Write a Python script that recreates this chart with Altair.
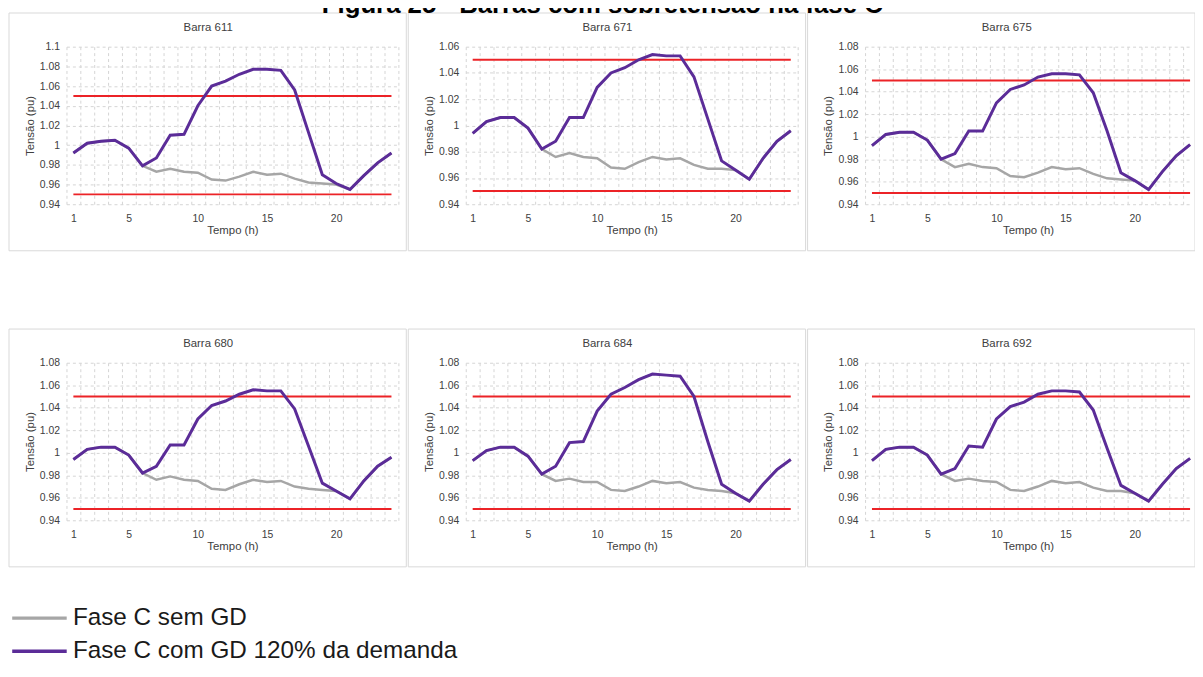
import altair as alt
import pandas as pd

# ---------------- data ----------------
hours = list(range(1, 25))
x_label_ticks = [1, 5, 10, 15, 20]
x_grid_ticks = [0.5, 1.5, 2.5, 3.5, 4.5, 5.5, 6.5, 7.5, 8.5, 9.5, 10.5, 11.5,
                12.5, 13.5, 14.5, 15.5, 16.5, 17.5, 18.5, 19.5, 20.5, 21.5, 22.5, 23.5, 24.5]

y_ticks_611 = [0.94, 0.96, 0.98, 1.0, 1.02, 1.04, 1.06, 1.08, 1.1]
y_ticks_671 = [0.94, 0.96, 0.98, 1.0, 1.02, 1.04, 1.06]
y_ticks_std = [0.94, 0.96, 0.98, 1.0, 1.02, 1.04, 1.06, 1.08]

lim_inf = 0.95
lim_sup = 1.05

serie_sem = "Fase C sem GD"
serie_com = "Fase C com GD 120% da demanda"

sem_611 = [0.992, 1.002, 1.004, 1.005, 0.997, 0.979, 0.973, 0.976, 0.973, 0.972, 0.965, 0.964,
           0.968, 0.973, 0.970, 0.971, 0.966, 0.962, 0.961, 0.960, 0.955, 0.969, 0.982, 0.992]
com_611 = [0.992, 1.002, 1.004, 1.005, 0.997, 0.979, 0.987, 1.010, 1.011, 1.040, 1.060, 1.065,
           1.072, 1.077, 1.077, 1.076, 1.056, 1.013, 0.970, 0.961, 0.955, 0.969, 0.982, 0.992]

sem_671 = [0.994, 1.003, 1.006, 1.006, 0.998, 0.982, 0.976, 0.979, 0.976, 0.975, 0.968, 0.967,
           0.972, 0.976, 0.974, 0.975, 0.970, 0.967, 0.967, 0.966, 0.959, 0.975, 0.988, 0.996]
com_671 = [0.994, 1.003, 1.006, 1.006, 0.998, 0.982, 0.988, 1.006, 1.006, 1.029, 1.040, 1.044,
           1.050, 1.054, 1.053, 1.053, 1.037, 1.005, 0.973, 0.966, 0.959, 0.975, 0.988, 0.996]

sem_675 = [0.992, 1.002, 1.004, 1.004, 0.997, 0.980, 0.973, 0.976, 0.973, 0.972, 0.965, 0.964,
           0.968, 0.973, 0.971, 0.972, 0.967, 0.963, 0.962, 0.961, 0.953, 0.969, 0.983, 0.993]
com_675 = [0.992, 1.002, 1.004, 1.004, 0.997, 0.980, 0.985, 1.005, 1.005, 1.030, 1.042, 1.046,
           1.053, 1.056, 1.056, 1.055, 1.039, 1.005, 0.968, 0.961, 0.953, 0.969, 0.983, 0.993]

sem_680 = [0.994, 1.003, 1.005, 1.005, 0.998, 0.982, 0.976, 0.979, 0.976, 0.975, 0.968, 0.967,
           0.972, 0.976, 0.974, 0.975, 0.970, 0.968, 0.967, 0.966, 0.959, 0.975, 0.988, 0.996]
com_680 = [0.994, 1.003, 1.005, 1.005, 0.998, 0.982, 0.988, 1.007, 1.007, 1.030, 1.042, 1.046,
           1.052, 1.056, 1.055, 1.055, 1.039, 1.006, 0.973, 0.966, 0.959, 0.975, 0.988, 0.996]

sem_684 = [0.993, 1.002, 1.005, 1.005, 0.997, 0.981, 0.975, 0.977, 0.974, 0.974, 0.967, 0.966,
           0.970, 0.975, 0.973, 0.974, 0.969, 0.967, 0.966, 0.964, 0.957, 0.972, 0.985, 0.994]
com_684 = [0.993, 1.002, 1.005, 1.005, 0.997, 0.981, 0.988, 1.009, 1.010, 1.037, 1.052, 1.058,
           1.065, 1.070, 1.069, 1.068, 1.050, 1.010, 0.972, 0.964, 0.957, 0.972, 0.985, 0.994]

sem_692 = [0.993, 1.003, 1.005, 1.005, 0.998, 0.981, 0.975, 0.977, 0.975, 0.974, 0.967, 0.966,
           0.970, 0.975, 0.973, 0.974, 0.969, 0.966, 0.966, 0.964, 0.957, 0.972, 0.986, 0.995]
com_692 = [0.993, 1.003, 1.005, 1.005, 0.998, 0.981, 0.986, 1.006, 1.005, 1.030, 1.041, 1.045,
           1.052, 1.055, 1.055, 1.054, 1.038, 1.004, 0.971, 0.964, 0.957, 0.972, 0.986, 0.995]

# ---------------- style ----------------
FONT = "Liberation Sans"
GRAY = "#a6a6a6"
PURPLE = "#5b2c98"
RED = "#ec2327"
GRID = "#d4d4d4"
FRAME = "#d9d9d9"
TXT = "#404040"

PW, PH = 335, 159
HOUR_PX = PW / 24.0

color_scale = alt.Scale(domain=[serie_sem, serie_com], range=[GRAY, PURPLE])


def panel(name, sem, com, y_ticks, pw=PW, right_pad=8):
    x_end = 0.5 + pw / HOUR_PX
    ys = alt.Scale(domain=[y_ticks[0], y_ticks[-1]], nice=False, zero=False)
    xs = alt.Scale(domain=[0.5, x_end], nice=False, zero=False)
    y_axis = alt.Axis(values=y_ticks, format=".2~f", grid=True, gridDash=[3, 3],
                      gridColor=GRID, ticks=False, domain=False, title="Tensão (pu)",
                      labelFontSize=10.5, labelPadding=7, titleFontSize=11.5,
                      titleFontWeight="normal", titlePadding=4)
    grid_vals = [g for g in x_grid_ticks if g <= x_end]

    df_sem = pd.DataFrame({"h": hours, "v": sem, "serie": serie_sem})
    df_com = pd.DataFrame({"h": hours, "v": com, "serie": serie_com})
    df_lim = pd.DataFrame({"h": hours * 2,
                           "v": [lim_inf] * 24 + [lim_sup] * 24,
                           "lim": ["inf"] * 24 + ["sup"] * 24})
    one = pd.DataFrame({"t": ["Barra " + name]})

    frame = alt.Chart(one).mark_rect(filled=False, stroke=FRAME, strokeWidth=1).encode(
        x=alt.value(-58), x2=alt.value(pw + right_pad), y=alt.value(-34), y2=alt.value(PH + 47))

    ptitle = alt.Chart(one).mark_text(font=FONT, fontSize=11.5, color=TXT, baseline="middle").encode(
        x=alt.value((PW - 49) / 2), y=alt.value(-19), text="t:N")

    grid = alt.Chart(df_sem).mark_line(opacity=0).encode(
        x=alt.X("h:Q", scale=xs, axis=alt.Axis(values=grid_vals, grid=True, labels=False,
                                                 ticks=False, domain=False, title=None, orient="top",
                                                 gridDash=[3, 3], gridColor=GRID, gridWidth=1)),
        y=alt.Y("v:Q", scale=ys, axis=y_axis))

    red = alt.Chart(df_lim).mark_line(color=RED, strokeWidth=2).encode(
        x=alt.X("h:Q", scale=xs, axis=None),
        y=alt.Y("v:Q", scale=ys, axis=y_axis),
        detail="lim:N")

    gray = alt.Chart(df_sem).mark_line(strokeWidth=2.5).encode(
        x=alt.X("h:Q", scale=xs,
                axis=alt.Axis(values=x_label_ticks, grid=False, ticks=False, domain=False,
                              title="Tempo (h)", labelFontSize=10.5, labelPadding=9,
                              titleFontSize=11.5, titleFontWeight="normal", titlePadding=1)),
        y=alt.Y("v:Q", scale=ys, axis=y_axis),
        color=alt.Color("serie:N", scale=color_scale,
                        legend=alt.Legend(title=None, orient="none", legendX=-57, legendY=564.5,
                                          direction="vertical")))

    purple = alt.Chart(df_com).mark_line(strokeWidth=3).encode(
        x=alt.X("h:Q", scale=xs, axis=None),
        y=alt.Y("v:Q", scale=ys, axis=y_axis),
        color=alt.Color("serie:N", scale=color_scale))

    return alt.layer(frame, grid, red, gray, purple, ptitle).resolve_axis(x="independent").properties(
        width=pw, height=PH)


row1 = alt.hconcat(panel("611", sem_611, com_611, y_ticks_611),
                   panel("671", sem_671, com_671, y_ticks_671),
                   panel("675", sem_675, com_675, y_ticks_std, pw=329, right_pad=4), spacing=0)
row2 = alt.hconcat(panel("680", sem_680, com_680, y_ticks_std),
                   panel("684", sem_684, com_684, y_ticks_std),
                   panel("692", sem_692, com_692, y_ticks_std, pw=329, right_pad=4), spacing=0)

chart = alt.vconcat(row1, row2, spacing=77).properties(
    title=alt.TitleParams("Figura 25 - Barras com sobretensão na fase C", font=FONT, fontSize=26,
                          fontWeight="bold", color="#000000", anchor="middle", offset=-6),
    padding={"left": 0, "top": -19, "right": -2, "bottom": -4},
    background="white",
).configure_view(stroke=None).configure_axis(
    labelFont=FONT, titleFont=FONT, labelColor=TXT, titleColor=TXT
).configure_legend(
    symbolType="M-1,0H4.5", symbolSize=400, symbolStrokeWidth=3.5, labelFont=FONT,
    labelFontSize=24.5, labelColor="#1a1a1a", labelOffset=39, rowPadding=8.5, labelLimit=600
)

chart.save("out.html", embed_options={"renderer": "svg", "actions": False})
